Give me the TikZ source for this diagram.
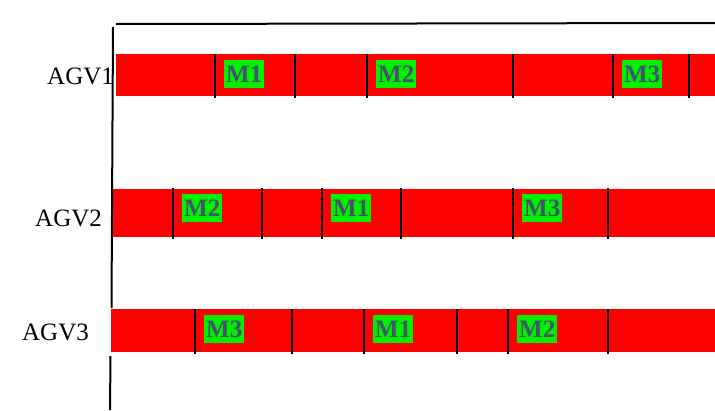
\documentclass[tikz,border=0pt]{standalone}
\usepackage{fontspec}
\setmainfont{Liberation Serif}
\definecolor{barred}{HTML}{FF0000}
\definecolor{tagGreen}{HTML}{00F000}
\definecolor{tagText}{HTML}{44546A}
\begin{document}
\begin{tikzpicture}[x=1pt,y=-1pt,
  axis/.style={line width=2pt,black},
  bar/.style={fill=barred,draw=none},
  divider/.style={line width=1.2pt,black},
  tag/.style={fill=tagGreen,text=tagText,font=\fontsize{25}{25}\selectfont\bfseries,inner sep=0pt,minimum width=40pt,minimum height=28pt,anchor=north west},
  agv/.style={font=\fontsize{25}{25}\selectfont,inner sep=0pt,anchor=base west}]
\useasboundingbox (0,0) rectangle (715,410);
% bars
\fill[bar] (116,54) rectangle (715,96);
\fill[bar] (113,189) rectangle (715,237);
\fill[bar] (111,309) rectangle (715,352);
% axes
\coordinate (top1) at (116,24);
\coordinate (top2) at (715,23);
\draw[axis] (top1) -- (top2);
\coordinate (l1) at (113,27);
\coordinate (l2) at (111.5,308);
\coordinate (l3) at (110.5,356);
\coordinate (l4) at (110,410);
\draw[axis] (l1) -- (l2);
\draw[axis] (l3) -- (l4);
% dividers
\foreach \x in {215,295,367,513,613,689} \draw[divider] (\x,54) -- (\x,98);
\foreach \x in {173,262,322,401,513,608} \draw[divider] (\x,188) -- (\x,239);
\foreach \x in {195,292,364,457,508,608} \draw[divider] (\x,309) -- (\x,354);
% labels
\node[agv] (a1) at (47,84) {AGV1};
\node[agv] (a2) at (35,226) {AGV2};
\node[agv] (a3) at (22,340) {AGV3};
% tags
\node[tag] (r1m1) at (224,60) {M1};
\node[tag] (r1m2) at (376,60) {M2};
\node[tag] (r1m3) at (622,60) {M3};
\node[tag] (r2m2) at (182,194) {M2};
\node[tag] (r2m1) at (331,194) {M1};
\node[tag] (r2m3) at (522,194) {M3};
\node[tag] (r3m3) at (204,315) {M3};
\node[tag] (r3m1) at (373,315) {M1};
\node[tag] (r3m2) at (517,315) {M2};
\end{tikzpicture}
\end{document}
